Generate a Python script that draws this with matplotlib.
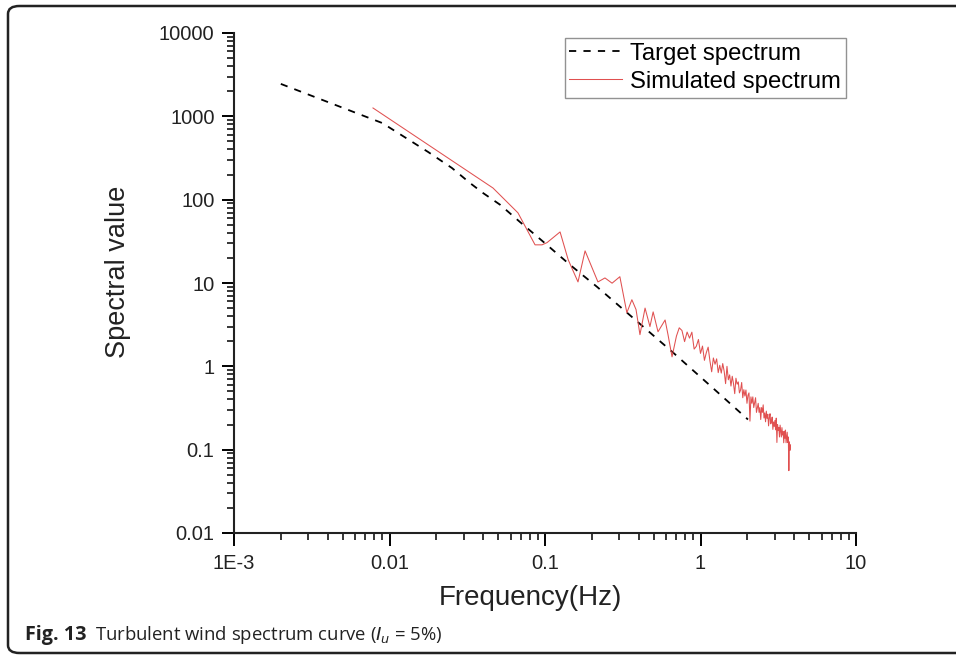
import matplotlib
matplotlib.use("Agg")
import matplotlib.pyplot as plt
from matplotlib.patches import FancyBboxPatch
from matplotlib.ticker import LogLocator, FixedLocator, NullFormatter, FixedFormatter

# ---------------- data ----------------
target_freq = [0.002, 0.009, 0.0177, 0.0252, 0.033, 0.040, 0.0514, 0.069, 0.10,
               0.145, 0.216, 0.337, 0.656, 1.2, 2.02]
target_val = [2450, 830, 374, 240, 158, 120, 87, 54, 30,
              16.5, 9.0, 4.4, 1.5, 0.55, 0.23]

sim_freq = [0.00783, 0.0463, 0.067, 0.0863, 0.0957, 0.103, 0.125, 0.141, 0.163,
            0.181, 0.219, 0.243, 0.27, 0.303, 0.336, 0.362, 0.385, 0.408, 0.44,
            0.473, 0.496, 0.533, 0.592, 0.618, 0.656, 0.70, 0.73,
            0.76, 0.79, 0.82, 0.85, 0.88, 0.91, 0.94, 0.97, 1.00, 1.03, 1.06,
            1.09, 1.12, 1.15, 1.18, 1.21, 1.24, 1.27, 1.30, 1.33, 1.36, 1.39,
            1.42, 1.45, 1.48, 1.51, 1.54, 1.57, 1.60, 1.63, 1.66, 1.69, 1.72,
            1.75, 1.78, 1.81, 1.84, 1.87, 1.90, 1.93, 1.96, 1.99, 2.02, 2.05,
            2.08, 2.11, 2.14, 2.17, 2.20, 2.23, 2.26, 2.29, 2.32, 2.35, 2.38,
            2.41, 2.44, 2.47, 2.50, 2.53, 2.56, 2.59, 2.62, 2.65, 2.68, 2.71,
            2.74, 2.77, 2.80, 2.83, 2.86, 2.89, 2.92, 2.95, 2.98, 3.01, 3.04,
            3.07, 3.10, 3.13, 3.16, 3.19, 3.22, 3.25, 3.28, 3.31, 3.34, 3.37,
            3.40, 3.43, 3.46, 3.49, 3.52, 3.55, 3.58, 3.61, 3.64, 3.67, 3.70,
            3.73, 3.76, 3.79]
sim_val = [1260, 138, 69.5, 28.7, 28.7, 30.5, 41, 19, 10.3,
           24.3, 10.3, 11.5, 9.95, 11.9, 4.4, 6.3, 4.8, 2.4, 5.0,
           3.0, 4.5, 2.6, 3.6, 2.4, 1.3, 2.3, 2.9,
           2.69, 1.98, 2.58, 2.18, 2.57, 1.61, 1.74, 2.10, 1.43, 1.75, 1.18,
           1.46, 1.70, 1.16, 0.86, 1.26, 1.06, 1.23, 0.84, 1.03, 0.83, 1.08,
           0.87, 0.62, 1.00, 0.69, 0.79, 0.58, 0.76, 0.62, 0.47, 0.72, 0.61,
           0.65, 0.48, 0.52, 0.64, 0.42, 0.525, 0.44, 0.52, 0.36, 0.45, 0.48,
           0.22, 0.43, 0.36, 0.43, 0.32, 0.366, 0.42, 0.28, 0.32, 0.36, 0.28,
           0.32, 0.23, 0.32, 0.28, 0.345, 0.24, 0.276, 0.216, 0.29, 0.237, 0.266,
           0.193, 0.242, 0.27, 0.204, 0.217, 0.246, 0.175, 0.215, 0.19, 0.224, 0.173,
           0.239, 0.122, 0.20, 0.17, 0.185, 0.142, 0.197, 0.167, 0.142, 0.184, 0.15,
           0.164, 0.121, 0.167, 0.137, 0.172, 0.121, 0.142, 0.162, 0.122, 0.142, 0.056,
           0.124, 0.098, 0.114]

x_ticks = [0.001, 0.01, 0.1, 1, 10]
x_ticklabels = ["1E-3", "0.01", "0.1", "1", "10"]
y_ticks = [0.01, 0.1, 1, 10, 100, 1000, 10000]
y_ticklabels = ["0.01", "0.1", "1", "10", "100", "1000", "10000"]

# ---------------- figure ----------------
W, H = 956, 655
fig = plt.figure(figsize=(W / 100, H / 100), dpi=100)
ax = fig.add_axes([234 / W, 1 - 533 / H, (856 - 234) / W, (533 - 33) / H])

ax.plot(target_freq, target_val, color="black", lw=1.3, linestyle=(0, (4, 4)),
        label="Target spectrum")
ax.plot(sim_freq, sim_val, color="#e05050", lw=0.75, label="Simulated spectrum")

ax.set_xscale("log")
ax.set_yscale("log")
ax.set_xlim(0.001, 10)
ax.set_ylim(0.01, 10000)

ax.xaxis.set_major_locator(FixedLocator(x_ticks))
ax.xaxis.set_major_formatter(FixedFormatter(x_ticklabels))
ax.yaxis.set_major_locator(FixedLocator(y_ticks))
ax.yaxis.set_major_formatter(FixedFormatter(y_ticklabels))
ax.xaxis.set_minor_locator(LogLocator(base=10, subs=range(2, 10), numticks=20))
ax.yaxis.set_minor_locator(LogLocator(base=10, subs=range(2, 10), numticks=20))
ax.xaxis.set_minor_formatter(NullFormatter())
ax.yaxis.set_minor_formatter(NullFormatter())

font = "Liberation Sans"
ax.tick_params(which="major", direction="out", length=9, width=1.4, pad=5,
               labelsize=14.5, labelcolor="#222222", labelfontfamily=font)
ax.tick_params(which="minor", direction="out", length=5, width=1.1)
ax.tick_params(axis="x", which="major", pad=6)

for s in ["top", "right"]:
    ax.spines[s].set_visible(False)
for s in ["left", "bottom"]:
    ax.spines[s].set_linewidth(1.5)
    ax.spines[s].set_color("#222222")

ax.set_xlabel("Frequency(Hz)", fontfamily=font, fontsize=20, color="#222222")
ax.set_ylabel("Spectral value", fontfamily=font, fontsize=19.5, color="#222222")
ax.xaxis.set_label_coords((530 - 234) / 622, -(598 - 533) / 500)
ax.yaxis.set_label_coords(-(234 - 118) / 622, (533 - 272) / 500)
ax.xaxis.label.set_va("center")
ax.yaxis.label.set_va("center")

leg = ax.legend(loc="upper right", bbox_to_anchor=((846 - 234) / (856 - 234), 1 - (38 - 33) / 500),
                prop={"family": font, "size": 17.2}, frameon=True, fancybox=False,
                borderpad=0.2, labelspacing=0.25, handlelength=2.2, handletextpad=0.35,
                borderaxespad=0)
leg.get_frame().set_edgecolor("#777777")
leg.get_frame().set_linewidth(1.0)

# rounded border around figure
box = FancyBboxPatch((8 / W, 1 - 653 / H), (1010 - 8) / W, (653 - 6) / H,
                     boxstyle="round,pad=0,rounding_size=0.012",
                     transform=fig.transFigure, fill=False, edgecolor="#222222",
                     lw=1.8, clip_on=False)
fig.patches.append(box)

# caption
fig.text(25 / W, 1 - 640 / H, "Fig. 13", fontfamily="Open Sans", fontweight="bold",
         fontsize=14.2, color="#222222", va="baseline")
fig.text(95 / W, 1 - 640 / H, r"Turbulent wind spectrum curve ($\mathit{I}_{\mathit{u}}$ = 5%)",
         fontfamily="Open Sans", fontsize=13.3, color="#222222", va="baseline")

fig.savefig("out.png", dpi=100)
